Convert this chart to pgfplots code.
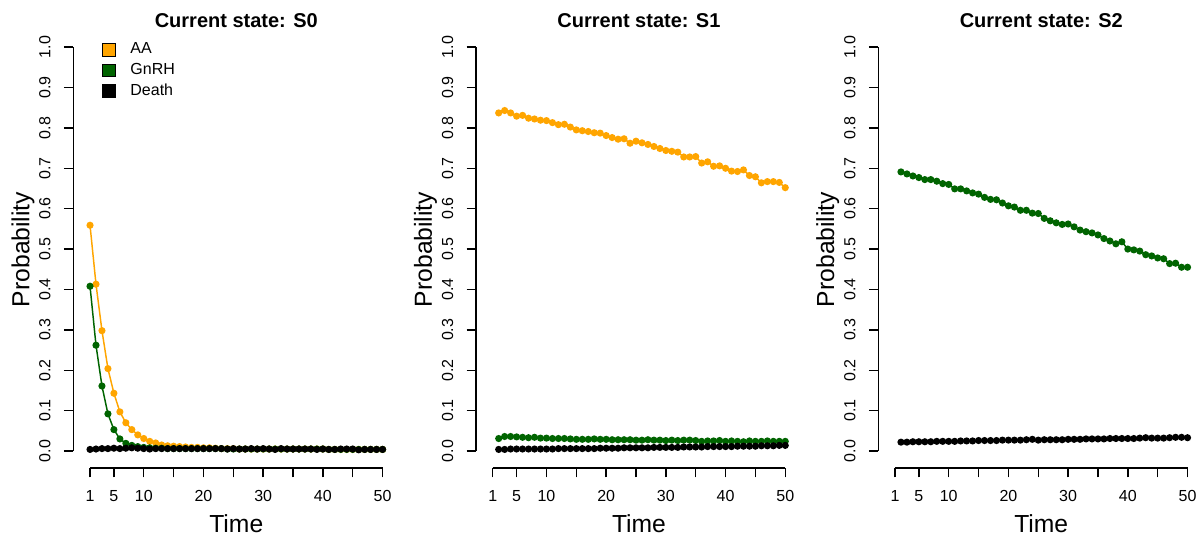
\documentclass[border=0pt]{standalone}
\usepackage{fontspec}
\setmainfont{Liberation Sans}
\usepackage{pgfplots}
\usepackage{pgfplotstable}
\pgfplotsset{compat=1.18}
\definecolor{aacol}{RGB}{255,165,0}
\definecolor{gnrhcol}{RGB}{0,100,0}

% current state S0, t = 1..50
\pgfplotstableread{
t aa gnrh death
1 0.559 0.408 0.004
2 0.413 0.262 0.005
3 0.298 0.161 0.006
4 0.204 0.092 0.006
5 0.143 0.053 0.007
6 0.097 0.030 0.006
7 0.070 0.019 0.007
8 0.053 0.014 0.008
9 0.040 0.011 0.007
10 0.031 0.009 0.006
11 0.024 0.008 0.005
12 0.020 0.007 0.006
13 0.015 0.007 0.006
14 0.013 0.006 0.006
15 0.012 0.006 0.006
16 0.011 0.006 0.006
17 0.010 0.006 0.006
18 0.009 0.006 0.006
19 0.009 0.006 0.006
20 0.008 0.006 0.006
21 0.008 0.006 0.006
22 0.007 0.006 0.006
23 0.006 0.006 0.006
24 0.006 0.005 0.005
25 0.006 0.005 0.006
26 0.005 0.005 0.005
27 0.005 0.005 0.005
28 0.005 0.005 0.006
29 0.005 0.005 0.005
30 0.005 0.005 0.006
31 0.005 0.005 0.005
32 0.005 0.005 0.004
33 0.005 0.005 0.006
34 0.005 0.005 0.005
35 0.005 0.005 0.005
36 0.005 0.005 0.005
37 0.005 0.005 0.005
38 0.005 0.005 0.005
39 0.005 0.005 0.004
40 0.005 0.005 0.005
41 0.004 0.004 0.004
42 0.004 0.004 0.004
43 0.004 0.004 0.005
44 0.004 0.004 0.005
45 0.004 0.004 0.005
46 0.004 0.004 0.003
47 0.004 0.004 0.004
48 0.004 0.004 0.004
49 0.004 0.004 0.004
50 0.004 0.004 0.004
}\tabSzero

% current state S1, t = 2..50
\pgfplotstableread{
t aa gnrh death
2 0.837 0.031 0.004
3 0.843 0.036 0.004
4 0.837 0.036 0.005
5 0.829 0.035 0.005
6 0.831 0.034 0.005
7 0.824 0.033 0.005
8 0.822 0.034 0.005
9 0.819 0.032 0.005
10 0.818 0.032 0.005
11 0.813 0.031 0.005
12 0.808 0.031 0.006
13 0.809 0.031 0.006
14 0.802 0.030 0.006
15 0.795 0.029 0.006
16 0.793 0.029 0.006
17 0.791 0.029 0.006
18 0.788 0.030 0.006
19 0.787 0.029 0.007
20 0.781 0.029 0.007
21 0.776 0.028 0.007
22 0.772 0.028 0.007
23 0.773 0.028 0.008
24 0.762 0.028 0.008
25 0.767 0.027 0.008
26 0.763 0.027 0.008
27 0.759 0.028 0.008
28 0.754 0.027 0.009
29 0.749 0.027 0.009
30 0.744 0.026 0.009
31 0.742 0.027 0.009
32 0.740 0.026 0.009
33 0.728 0.027 0.010
34 0.728 0.027 0.010
35 0.729 0.026 0.010
36 0.713 0.024 0.010
37 0.716 0.025 0.011
38 0.705 0.025 0.011
39 0.706 0.026 0.011
40 0.700 0.024 0.011
41 0.693 0.025 0.011
42 0.692 0.024 0.012
43 0.696 0.023 0.012
44 0.682 0.025 0.012
45 0.679 0.024 0.012
46 0.664 0.024 0.013
47 0.667 0.025 0.013
48 0.667 0.024 0.013
49 0.665 0.024 0.014
50 0.652 0.024 0.014
}\tabSone

% current state S2, t = 2..50
\pgfplotstableread{
t gnrh death
2 0.691 0.022
3 0.686 0.022
4 0.681 0.023
5 0.677 0.023
6 0.672 0.023
7 0.672 0.023
8 0.668 0.024
9 0.662 0.024
10 0.660 0.024
11 0.649 0.024
12 0.649 0.025
13 0.644 0.025
14 0.639 0.025
15 0.636 0.026
16 0.628 0.026
17 0.623 0.026
18 0.622 0.026
19 0.614 0.027
20 0.607 0.027
21 0.604 0.027
22 0.596 0.027
23 0.596 0.028
24 0.589 0.029
25 0.588 0.027
26 0.576 0.028
27 0.570 0.028
28 0.565 0.028
29 0.561 0.028
30 0.562 0.029
31 0.555 0.029
32 0.547 0.029
33 0.543 0.030
34 0.540 0.030
35 0.535 0.030
36 0.526 0.030
37 0.520 0.031
38 0.513 0.031
39 0.518 0.031
40 0.500 0.031
41 0.498 0.031
42 0.495 0.032
43 0.486 0.033
44 0.483 0.032
45 0.478 0.032
46 0.476 0.032
47 0.464 0.033
48 0.465 0.034
49 0.455 0.034
50 0.455 0.033
}\tabStwo

\pgfplotsset{
  rpanel/.style={
    scale only axis,
    width=240.9pt, height=327.8pt,
    anchor=south west,
    xmin=-1.8, xmax=52, ymin=-0.042, ymax=1.04,
    axis x line*=bottom, axis y line*=left,
    axis line style={draw=none},
    tick align=outside,
    major tick length=7pt,
    tick style={black, line width=1.1pt},
    xtick={1,5,10,15,20,25,30,35,40,45,50},
    xticklabels={1,5,10,,20,,30,,40,,50},
    ytick={0,0.1,0.2,0.3,0.4,0.5,0.6,0.7,0.8,0.9,1},
    yticklabels={0.0,0.1,0.2,0.3,0.4,0.5,0.6,0.7,0.8,0.9,1.0},
    /pgf/number format/assume math mode=true,
    tick label style={font=\fontsize{12}{14}\selectfont},
    yticklabel style={rotate=90, anchor=south},
    xticklabel style={anchor=north},
    xticklabel shift=6.5pt,
    yticklabel shift=6.5pt,
    clip=false,
    xlabel={Time}, ylabel={Probability},
    label style={font=\fontsize{18.5}{22}\selectfont},
    xlabel style={at={(axis description cs:0.5074,-0.148)}, anchor=base},
    ylabel style={at={(axis description cs:-0.157,0.5)}, anchor=center},
    title style={font=\bfseries\fontsize{15}{18}\selectfont,
      at={(axis description cs:0.5074,0.989)}, anchor=base},
    every axis plot/.append style={line width=1.1pt, mark=*, mark size=2.1pt},
    execute at end axis={
      \draw[line width=1.1pt] (axis cs:1,-0.042) -- (axis cs:50,-0.042);
      \draw[line width=1.1pt] (axis cs:-1.8,0) -- (axis cs:-1.8,1);
    },
  },
}

\begin{document}
\begin{tikzpicture}
\useasboundingbox (0,0) rectangle (902.25pt,402.75pt);

\begin{axis}[rpanel, at={(54.98pt,51.75pt)},
    title={Current state: S0},
    legend style={draw=none, fill=none, inner sep=0pt,
      at={(axis description cs:0.0884,0.9753)}, anchor=north west,
      font=\fontsize{12}{14}\selectfont, row sep=3.4pt,
      nodes={inner sep=0pt, text height=9pt, text depth=3pt}},
    legend cell align=left]
  \addplot[color=aacol, legend image code/.code={
      \draw[draw=black, fill=aacol, line width=0.6pt] (0pt,-4.75pt) rectangle (9.5pt,4.75pt);
      \path (20.5pt,0pt);}] table[x=t, y=aa] {\tabSzero};
  \addplot[color=gnrhcol, legend image code/.code={
      \draw[draw=black, fill=gnrhcol, line width=0.6pt] (0pt,-4.75pt) rectangle (9.5pt,4.75pt);
      \path (20.5pt,0pt);}] table[x=t, y=gnrh] {\tabSzero};
  \addplot[color=black, legend image code/.code={
      \draw[draw=black, fill=black, line width=0.6pt] (0pt,-4.75pt) rectangle (9.5pt,4.75pt);
      \path (20.5pt,0pt);}] table[x=t, y=death] {\tabSzero};
  \legend{AA,GnRH,Death}
\end{axis}

\begin{axis}[rpanel, at={(357pt,51.75pt)}, title={Current state: S1}]
  \addplot[color=aacol] table[x=t, y=aa] {\tabSone};
  \addplot[color=gnrhcol] table[x=t, y=gnrh] {\tabSone};
  \addplot[color=black] table[x=t, y=death] {\tabSone};
\end{axis}

\begin{axis}[rpanel, at={(658.7pt,51.75pt)}, title={Current state: S2}]
  \addplot[color=gnrhcol] table[x=t, y=gnrh] {\tabStwo};
  \addplot[color=black] table[x=t, y=death] {\tabStwo};
\end{axis}
\end{tikzpicture}
\end{document}
